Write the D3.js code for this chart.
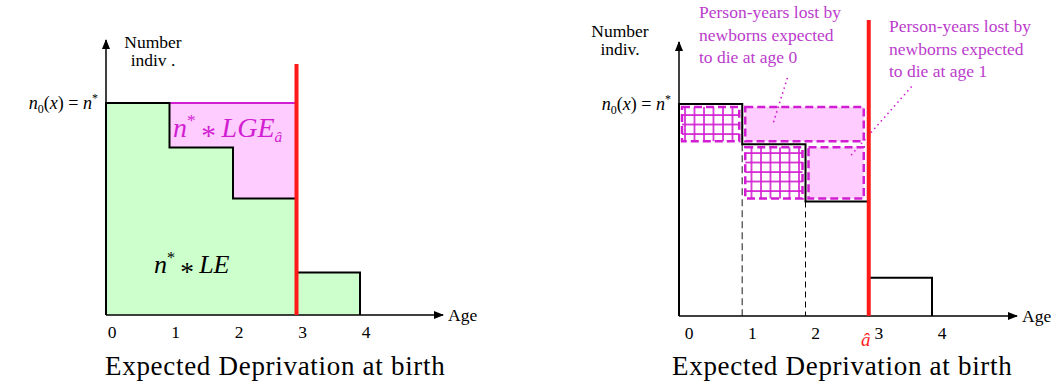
<!DOCTYPE html>
<html>
<head>
<meta charset="utf-8">
<script src="https://cdn.jsdelivr.net/npm/d3@7"></script>
<style>
  body { margin: 0; background: #fff; }
</style>
</head>
<body>
<svg id="chart" width="1061" height="388"></svg>
<script>
// data
var ages = [0, 1, 2, 3, 4];
var survLeft = [1, 0.79, 0.55, 0.2];     // n0(x) / n* on each age interval, left panel
var survRight = [1, 0.81, 0.54, 0.18];   // same, right panel
var aHat = 3;
var tickLabels = ["0", "1", "2", "3", "4"];
var titleText = "Expected Deprivation at birth";
var noteAge0 = ["Person-years lost by", "newborns expected", "to die at age 0"];
var noteAge1 = ["Person-years lost by", "newborns expected", "to die at age 1"];

var green = "#ccffcc", pink = "#ffccff", mag = "#d21ed2", noteCol = "#bb3ccc", red = "#ff1a1a";
var serif = "Liberation Serif";

var svg = d3.select("#chart");
var defs = svg.append("defs");

defs.append("marker")
    .attr("id", "arrow")
    .attr("viewBox", "0 0 10 10")
    .attr("refX", 9).attr("refY", 5)
    .attr("markerWidth", 10).attr("markerHeight", 10)
    .attr("markerUnits", "userSpaceOnUse")
    .attr("orient", "auto")
  .append("path")
    .attr("d", "M0,1 L10,5 L0,9 Z")
    .attr("fill", "#000");

var pat = defs.append("pattern")
    .attr("id", "grid")
    .attr("patternUnits", "userSpaceOnUse")
    .attr("width", 9.5).attr("height", 9.5);
pat.append("rect").attr("width", 9.5).attr("height", 9.5).attr("fill", "#fff");
pat.append("path")
    .attr("d", "M1,0 V9.5 M0,1 H9.5")
    .attr("stroke", mag).attr("stroke-width", 1.6);

function txt(g, size) {
    return g.append("text")
        .attr("font-family", serif)
        .attr("font-size", size);
}

function stepPath(x, y, surv) {
    var d = "M" + x(0) + "," + y(0) + " V" + y(surv[0]);
    surv.forEach(function (v, i) {
        if (i > 0) d += " V" + y(v);
        d += " H" + x(i + 1);
    });
    d += " V" + y(0);
    return d;
}

// n* * something, LaTeX style
function mathProduct(t, size, rest, sub) {
    t.append("tspan").attr("font-style", "italic").text("n");
    t.append("tspan").attr("font-size", size * 0.62).attr("dy", -size * 0.38).text("*");
    t.append("tspan").attr("dy", size * 0.38).text("\u2009");
    t.append("tspan").attr("font-size", size * 1.05).attr("dy", size * 0.3).text("*");
    t.append("tspan").attr("dy", -size * 0.3).text("\u2009");
    t.append("tspan").attr("font-style", "italic").text(rest);
    if (sub) t.append("tspan").attr("font-style", "italic").attr("font-size", size * 0.55)
        .attr("dy", size * 0.18).text(sub);
}

function drawAxes(g, x, y, xEnd, yTop, opts) {
    // axes
    g.append("line")
        .attr("x1", x(0)).attr("y1", y(0))
        .attr("x2", xEnd).attr("y2", y(0))
        .attr("stroke", "#000").attr("stroke-width", 1.5)
        .attr("marker-end", "url(#arrow)");
    g.append("line")
        .attr("x1", x(0)).attr("y1", y(0))
        .attr("x2", x(0)).attr("y2", yTop)
        .attr("stroke", "#000").attr("stroke-width", 1.5)
        .attr("marker-end", "url(#arrow)");

    ages.forEach(function (d, i) {
        txt(g, 17.5)
            .attr("x", x(d) + opts.tickDx)
            .attr("y", y(0) + 23)
            .attr("text-anchor", "middle")
            .text(tickLabels[i]);
    });

    txt(g, 17.5)
        .attr("x", xEnd + 5).attr("y", y(0) + 6)
        .text("Age");

    txt(g, 17.5).attr("x", opts.numX).attr("y", opts.numY)
        .attr("text-anchor", "middle")
        .text("Number");
    txt(g, 17.5).attr("x", opts.numX).attr("y", opts.numY + 18)
        .attr("text-anchor", "middle")
        .text(opts.indiv);

    var n0 = txt(g, 18)
        .attr("x", x(0) - 8).attr("y", y(1) + 6)
        .attr("text-anchor", "end");
    n0.append("tspan").attr("font-style", "italic").text("n");
    n0.append("tspan").attr("font-size", 12).attr("dy", 4).text("0");
    n0.append("tspan").attr("dy", -4).text("(");
    n0.append("tspan").attr("font-style", "italic").text("x");
    n0.append("tspan").text(") = ");
    n0.append("tspan").attr("font-style", "italic").text("n");
    n0.append("tspan").attr("font-size", 12).attr("dy", -7).text("*");

    txt(g, 27)
        .attr("x", opts.titleX).attr("y", 375)
        .attr("letter-spacing", 0.7)
        .text(titleText);
}

// ---------------- left panel ----------------
(function () {
    var x = d3.scaleLinear().domain([0, 4]).range([106, 360]);
    var y = d3.scaleLinear().domain([0, 1]).range([315, 103]);
    var g = svg.append("g");

    // green area under the step curve
    g.append("path")
        .attr("d", stepPath(x, y, survLeft) + " Z")
        .attr("fill", green);

    // pink: lost years between n* and the curve up to a-hat
    var pd = "M" + x(1) + "," + y(1) + " H" + x(aHat) + " V" + y(survLeft[2]) +
        " H" + x(2) + " V" + y(survLeft[1]) + " H" + x(1) + " Z";
    g.append("path").attr("d", pd).attr("fill", pink);
    g.append("line")
        .attr("x1", x(1)).attr("x2", x(aHat))
        .attr("y1", y(1)).attr("y2", y(1))
        .attr("stroke", mag).attr("stroke-width", 2);

    g.append("path")
        .attr("d", stepPath(x, y, survLeft))
        .attr("fill", "none")
        .attr("stroke", "#000").attr("stroke-width", 2);

    drawAxes(g, x, y, 443, 40, { tickDx: 6, numX: 153, numY: 48, indiv: "indiv .", titleX: 105 });

    g.append("line")
        .attr("x1", x(aHat)).attr("x2", x(aHat))
        .attr("y1", 64).attr("y2", y(0))
        .attr("stroke", red).attr("stroke-width", 4);

    var t1 = txt(g, 28)
        .attr("x", 173).attr("y", 137)
        .attr("fill", mag);
    mathProduct(t1, 28, "LGE", "\u00e2");

    var t2 = txt(g, 26)
        .attr("x", 154).attr("y", 273);
    mathProduct(t2, 26, "LE");
})();

// ---------------- right panel ----------------
(function () {
    var x = d3.scaleLinear().domain([0, 4]).range([679, 932]);
    var y = d3.scaleLinear().domain([0, 1]).range([316, 104]);
    var g = svg.append("g");

    // boxes for deaths at age k: hatched part on [k, k+1], pink part on [k+1, a-hat]
    var inset = 3;
    [0, 1].forEach(function (k) {
        var top = y(survRight[k]) + inset, bot = y(survRight[k + 1]) - inset;
        g.append("rect")
            .attr("x", x(k) + inset).attr("y", top)
            .attr("width", x(k + 1) - x(k) - 2 * inset).attr("height", bot - top)
            .attr("fill", "url(#grid)")
            .attr("stroke", mag).attr("stroke-width", 2.5)
            .attr("stroke-dasharray", "8,4");
        g.append("rect")
            .attr("x", x(k + 1) + inset).attr("y", top)
            .attr("width", x(aHat) - x(k + 1) - inset - 5).attr("height", bot - top)
            .attr("fill", pink)
            .attr("stroke", mag).attr("stroke-width", 2.5)
            .attr("stroke-dasharray", "8,4");
    });

    // dashed guides
    g.append("line")
        .attr("x1", x(1)).attr("x2", x(1))
        .attr("y1", y(survRight[1])).attr("y2", y(0))
        .attr("stroke", "#666").attr("stroke-width", 1.5)
        .attr("stroke-dasharray", "7,4");
    g.append("line")
        .attr("x1", x(2)).attr("x2", x(2))
        .attr("y1", y(survRight[2])).attr("y2", y(0))
        .attr("stroke", "#000").attr("stroke-width", 1)
        .attr("stroke-dasharray", "6,4");

    g.append("path")
        .attr("d", stepPath(x, y, survRight))
        .attr("fill", "none")
        .attr("stroke", "#000").attr("stroke-width", 2);

    // leaders
    var leaders = [[[1.71, 1.12], [1.49, 0.91]], [[3.67, 1.08], [2.71, 0.755]]];
    leaders.forEach(function (l) {
        g.append("line")
            .attr("x1", x(l[0][0])).attr("y1", y(l[0][1]))
            .attr("x2", x(l[1][0])).attr("y2", y(l[1][1]))
            .attr("stroke", mag).attr("stroke-width", 1.8)
            .attr("stroke-linecap", "round")
            .attr("stroke-dasharray", "0,5");
    });

    drawAxes(g, x, y, 1017, 42, { tickDx: 10, numX: 620, numY: 37, indiv: "indiv.", titleX: 672 });

    g.append("line")
        .attr("x1", x(aHat)).attr("x2", x(aHat))
        .attr("y1", 20).attr("y2", y(0))
        .attr("stroke", red).attr("stroke-width", 4);

    txt(g, 19)
        .attr("x", x(aHat) - 3).attr("y", 346)
        .attr("text-anchor", "middle")
        .attr("font-style", "italic")
        .attr("fill", red)
        .text("\u00e2");

    function note(lines, x0, y0) {
        lines.forEach(function (s, i) {
            txt(g, 17.5).attr("fill", noteCol)
                .attr("x", x0).attr("y", y0 + i * 22.5).text(s);
        });
    }
    note(noteAge0, 699, 18);
    note(noteAge1, 889, 32);
})();
</script>
</body>
</html>
